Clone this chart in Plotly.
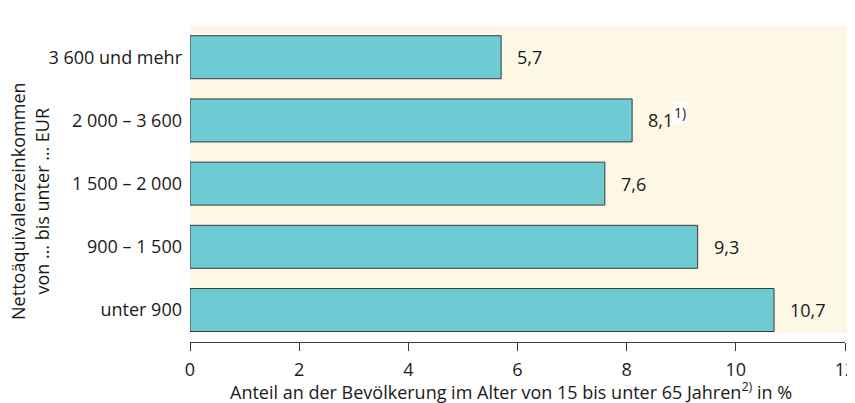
import plotly.graph_objects as go

categories = ["unter 900", "900 – 1 500", "1 500 – 2 000", "2 000 – 3 600", "3 600 und mehr"]
values = [10.7, 9.3, 7.6, 8.1, 5.7]
value_labels = ["10,7", "9,3", "7,6", "8,1", "5,7"]
footnotes = ["", "", "", "1)", ""]
x_ticks = [0, 2, 4, 6, 8, 10, 12]

FONT = "Open Sans"
TXT = "#1a1a1a"
FS = 18

fig = go.Figure()
fig.add_trace(go.Bar(
    y=categories, x=values, orientation="h", width=0.68,
    marker=dict(color="#6ECBD3", line=dict(color="#3a3a3a", width=1)),
    hoverinfo="skip",
))

annotations = []
for c, v, lab, fn in zip(categories, values, value_labels, footnotes):
    annotations.append(dict(x=v, y=c, xref="x", yref="y", text=lab, showarrow=False,
                            xanchor="left", xshift=14, font=dict(family=FONT, size=FS, color=TXT)))
    if fn:
        annotations.append(dict(x=v, y=c, xref="x", yref="y", text=fn, showarrow=False,
                                xanchor="left", xshift=40, yshift=8, bgcolor="white",
                                borderpad=1, font=dict(family=FONT, size=14, color=TXT)))

annotations.append(dict(
    x=-0.244, y=0.447, xref="paper", yref="paper", textangle=-90, showarrow=False,
    text="Nettoäquivalenzeinkommen<br>von … bis unter … EUR",
    font=dict(family=FONT, size=FS, color=TXT), xanchor="center", yanchor="middle"))

annotations.append(dict(
    x=0.49, y=-0.155, xref="paper", yref="paper", showarrow=False,
    text="Anteil an der Bevölkerung im Alter von 15 bis unter 65 Jahren<sup>2)</sup> in %",
    font=dict(family=FONT, size=FS, color=TXT), xanchor="center", yanchor="middle"))

fig.update_layout(
    width=847, height=395,
    margin=dict(l=182, r=10, t=18, b=61, pad=0),
    paper_bgcolor="white", plot_bgcolor="rgba(0,0,0,0)",
    showlegend=False,
    font=dict(family=FONT, size=FS, color=TXT),
    annotations=annotations,
    shapes=[dict(type="rect", xref="paper", yref="y", x0=0, x1=1.02, y0=-0.364, y1=4.494,
                 fillcolor="#FDF7E6", line=dict(width=0), layer="below")],
    xaxis=dict(range=[0, 12], tickvals=x_ticks, ticktext=[str(t) for t in x_ticks],
               showgrid=False, zeroline=False, showline=True, linecolor="#3a3a3a", linewidth=1,
               ticks="outside", ticklen=8, tickcolor="#3a3a3a", automargin=False,
               ticklabeloverflow="allow", ticklabelstandoff=3,
               tickfont=dict(family=FONT, size=FS, color=TXT)),
    yaxis=dict(range=[-0.506, 4.494], showgrid=False, zeroline=False, showline=False,
               ticks="", ticklabelstandoff=7, automargin=False,
               tickfont=dict(family=FONT, size=FS, color=TXT)),
)

fig.write_html("out.html")
